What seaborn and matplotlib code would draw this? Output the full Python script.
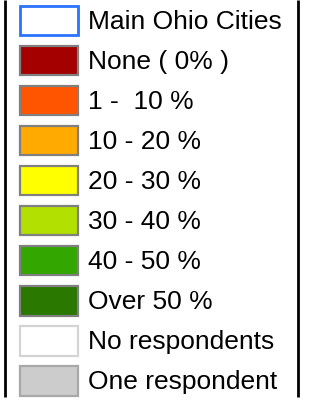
import matplotlib
matplotlib.use("Agg")
import matplotlib.pyplot as plt
import pandas as pd
import seaborn as sns

labels = ["Main Ohio Cities", "None ( 0% )", "1 -  10 %", "10 - 20 %", "20 - 30 %",
          "30 - 40 %", "40 - 50 %", "Over 50 %", "No respondents", "One respondent"]
fills = ["#ffffff", "#a50000", "#ff5500", "#ffaa00", "#ffff00",
         "#b2e000", "#33a600", "#2a7800", "#ffffff", "#cccccc"]
edges = ["#2a72ff", "#808080", "#808080", "#808080", "#808080",
         "#808080", "#808080", "#808080", "#d4d4d4", "#a8a8a8"]

df = pd.DataFrame({"label": labels, "size": [1] * len(labels)})

sns.set_style("white")
plt.rcParams["font.family"] = ["Liberation Sans", "DejaVu Sans"]

fig = plt.figure(figsize=(3.09, 4.00), dpi=100)
ax = fig.add_axes([0, 0, 1, 1])

sns.barplot(data=df, y="label", x="size", hue="label", palette=fills,
            order=labels, hue_order=labels, dodge=False, width=0.73,
            saturation=1, legend=False, ax=ax, orient="h")

for patch, ec in zip(ax.patches, edges):
    patch.set_edgecolor(ec)
    patch.set_linewidth(2.0 if ec == "#2a72ff" else 1.6)

for i, lab in enumerate(labels):
    ax.text(1.17, i + 0.03, lab, va="center", ha="left", fontsize=19, color="black")

# pixel mapping: bar 0..1 -> x 20..78 px, rows 40 px apart starting at 20.5 px
px = 58.0
x0 = -20.0 / px
ax.set_xlim(x0, x0 + 309.0 / px)
row = 40.06
y0 = -20.5 / row
ax.set_ylim(y0 + 400.0 / row, y0)

# side rules of the legend frame
ybot = (397 - 20.5) / row
ax.plot([x0 + 5 / px, x0 + 5 / px], [y0, ybot], color="black", lw=2, solid_capstyle="butt")
ax.plot([x0 + 298 / px, x0 + 298 / px], [y0, ybot], color="black", lw=2, solid_capstyle="butt")

ax.set_axis_off()
fig.savefig("out.png", dpi=100)
